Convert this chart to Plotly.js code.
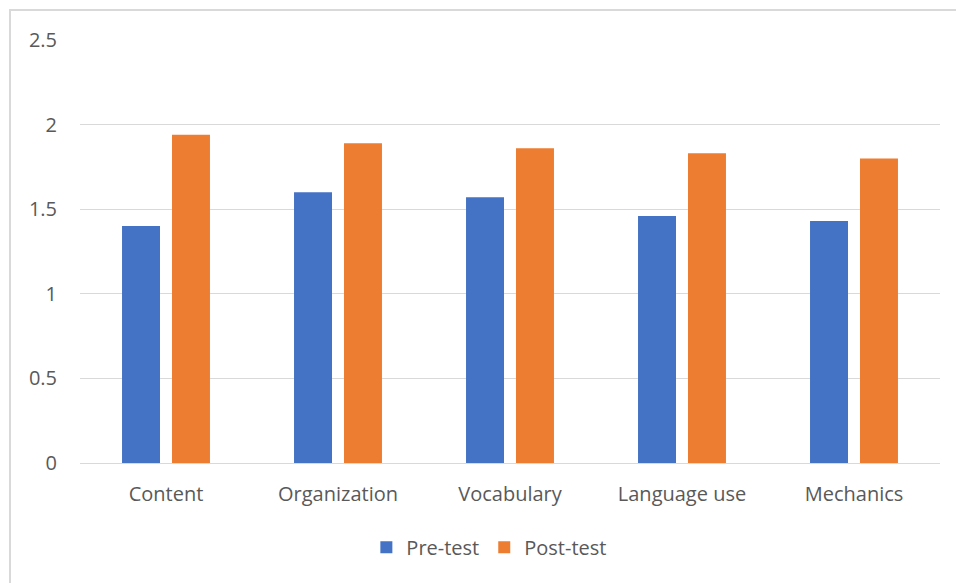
<!DOCTYPE html>
<html>
<head>
<meta charset="utf-8">
<script src="https://cdn.plot.ly/plotly-3.0.1.min.js"></script>
<style>
html,body{margin:0;padding:0;background:#fff;}
#frame{position:absolute;left:9px;top:9px;width:1000px;height:700px;border:2px solid #d9d9d9;box-sizing:border-box;}
#chart{position:absolute;left:0;top:0;width:956px;height:583px;}
</style>
</head>
<body>
<div id="frame"></div>
<div id="chart"></div>
<script>
const categories = ["Content", "Organization", "Vocabulary", "Language use", "Mechanics"];
const preTest = [1.40, 1.60, 1.57, 1.46, 1.43];
const postTest = [1.94, 1.89, 1.86, 1.83, 1.80];
const yTicks = [0, 0.5, 1, 1.5, 2, 2.5];
const yTickText = ["0", "0.5", "1", "1.5", "2", "2.5"];

const font = {family: "Open Sans, Noto Sans, sans-serif", size: 20, color: "#595959"};

const data = [
  {type: "bar", name: "Pre-test", x: categories, y: preTest, marker: {color: "#4472C4"}, hoverinfo: "skip"},
  {type: "bar", name: "Post-test", x: categories, y: postTest, marker: {color: "#ED7D31"}, hoverinfo: "skip"}
];

const layout = {
  width: 956, height: 583,
  paper_bgcolor: "rgba(0,0,0,0)", plot_bgcolor: "rgba(0,0,0,0)",
  margin: {l: 80, r: 16, t: 40, b: 120},
  font: font,
  barmode: "group",
  bargap: 0.419,
  bargroupgap: 0.24,
  showlegend: true,
  legend: {orientation: "h", x: 0.476, xanchor: "center", y: -0.199, yanchor: "middle", font: font, traceorder: "normal"},
  xaxis: {type: "category", showgrid: false, showline: false, zeroline: false, ticks: "", tickfont: font, ticklabelstandoff: 17},
  yaxis: {range: [0, 2.5], tickvals: yTicks, ticktext: yTickText, showgrid: true, gridcolor: "#d9d9d9", gridwidth: 1,
          zeroline: true, zerolinecolor: "#d9d9d9", zerolinewidth: 1, showline: false, ticks: "", tickfont: font, ticklabelstandoff: 22}
};

Plotly.newPlot("chart", data, layout, {staticPlot: true, displayModeBar: false});
</script>
</body>
</html>
